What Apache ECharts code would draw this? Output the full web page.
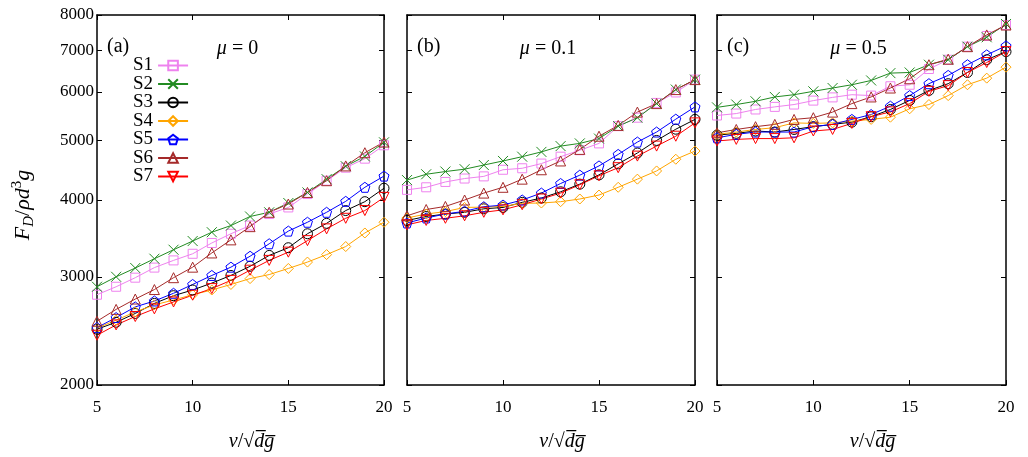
<!DOCTYPE html>
<html><head><meta charset="utf-8">
<script src="https://cdn.jsdelivr.net/npm/echarts@6/dist/echarts.min.js"></script>
<style>html,body{margin:0;padding:0;background:#fff}#c{width:1028px;height:457px}</style>
</head><body><div id="c"></div>
<script>
// ---------- data ----------
const speeds = [5,6,7,8,9,10,11,12,13,14,15,16,17,18,19,20];
const seriesNames = ['S1','S2','S3','S4','S5','S6','S7'];
const yTicks = [2000,3000,4000,5000,6000,7000,8000];
const xTicks = [5,10,15,20];
const panelTags = ['(a)','(b)','(c)'];
const muValues = ['0','0.1','0.5'];

// mu = 0
const mu0_S1 = [2805,2890,2990,3105,3190,3270,3405,3525,3635,3795,3890,4090,4300,4515,4670,4910];
const mu0_S2 = [2890,3000,3100,3210,3320,3430,3545,3635,3760,3820,3955,4115,4325,4540,4710,4965];
const mu0_S3 = [2465,2530,2615,2715,2795,2855,2930,3015,3120,3250,3345,3525,3665,3845,3975,4180];
const mu0_S4 = [2475,2550,2630,2700,2750,2805,2855,2915,2980,3025,3095,3170,3260,3360,3535,3680];
const mu0_S5 = [2480,2575,2680,2740,2820,2915,3015,3110,3240,3395,3560,3680,3820,3980,4195,4375];
const mu0_S6 = [2540,2655,2760,2860,2990,3110,3280,3445,3620,3820,3940,4115,4300,4545,4775,4970];
const mu0_S7 = [2410,2505,2585,2660,2730,2800,2870,2960,3075,3190,3290,3435,3590,3735,3845,4040];

// mu = 0.1
const mu01_S1 = [4155,4195,4280,4335,4370,4480,4505,4585,4705,4820,4945,5275,5445,5755,5985,6280];
const mu01_S2 = [4310,4405,4450,4490,4560,4630,4705,4790,4895,4945,5035,5275,5445,5740,6050,6280];
const mu01_S3 = [3705,3760,3795,3820,3870,3890,3965,4030,4125,4245,4395,4580,4770,5000,5215,5410];
const mu01_S4 = [3740,3795,3830,3890,3895,3905,3950,3955,3975,4015,4075,4195,4325,4460,4660,4805];
const mu01_S5 = [3670,3740,3795,3835,3900,3925,4000,4105,4255,4390,4545,4745,4970,5160,5415,5670];
const mu01_S6 = [3770,3860,3905,4000,4105,4195,4325,4480,4630,4835,5080,5290,5560,5740,6050,6280];
const mu01_S7 = [3645,3705,3735,3770,3820,3855,3930,4015,4105,4235,4380,4515,4715,4895,5080,5340];

// mu = 0.5
const mu05_S1 = [5490,5530,5615,5670,5720,5805,5875,5935,5915,6125,6160,6535,6765,7105,7395,7705];
const mu05_S2 = [5660,5720,5790,5885,5935,6010,6085,6160,6260,6435,6450,6640,6765,7105,7360,7735];
const mu05_S3 = [5100,5135,5180,5160,5210,5265,5310,5355,5465,5615,5810,6030,6185,6450,6765,6975];
const mu05_S4 = [5115,5160,5210,5245,5340,5330,5340,5375,5410,5455,5630,5720,5915,6160,6315,6580];
const mu05_S5 = [5050,5115,5160,5160,5160,5265,5310,5410,5510,5685,5915,6185,6380,6640,6890,7125];
const mu05_S6 = [5145,5210,5265,5310,5410,5445,5560,5740,5885,6085,6300,6640,6780,7105,7425,7705];
const mu05_S7 = [4990,5020,5035,5035,5050,5180,5210,5330,5465,5565,5740,6010,6140,6450,6695,6975];

const panels = [
  [mu0_S1,mu0_S2,mu0_S3,mu0_S4,mu0_S5,mu0_S6,mu0_S7],
  [mu01_S1,mu01_S2,mu01_S3,mu01_S4,mu01_S5,mu01_S6,mu01_S7],
  [mu05_S1,mu05_S2,mu05_S3,mu05_S4,mu05_S5,mu05_S6,mu05_S7]
];

// ---------- styles ----------
const FONT = 'Liberation Serif';
const colors = ['#ee82ee','#228b22','#000000','#ffa500','#0000ff','#a52a2a','#ff0000'];
const symbols = [
  'rect',
  'path://M0,0L10,10M10,0L0,10',
  'circle',
  'diamond',
  'path://M5,0L9.755,3.455L7.939,9.045L2.061,9.045L0.245,3.455Z',
  'triangle',
  'path://M0,0L10,0L5,8.66Z'
];
const symbolSizes = [9,10,10,10,10,10,10];
const grids = [
  {left:97, top:15, width:287, height:372},
  {left:407, top:15, width:288, height:372},
  {left:717, top:15, width:289, height:372}
];

const xAxes = [], yAxes = [], series = [], graphics = [];
grids.forEach((g, i) => {
  const common = {gridIndex:i, type:'value', min:5, max:20, interval:5,
    axisLine:{show:true, onZero:false, lineStyle:{color:'#000', width:1.5}},
    axisTick:{show:true, inside:true, length:5, customValues:xTicks, lineStyle:{color:'#000', width:1}},
    splitLine:{show:false}};
  xAxes.push(Object.assign({}, common, {position:'bottom',
    axisLabel:{show:true, margin:14, color:'#000', fontFamily:FONT, fontSize:17},
    name:'{i|v}/√{i|d̅g̅}', nameLocation:'middle', nameGap:47,
    nameTextStyle:{color:'#000', fontFamily:FONT, fontSize:20, padding:[0,0,0,22],
      rich:{i:{fontStyle:'italic', fontFamily:FONT, fontSize:20}}}}));
  xAxes.push(Object.assign({}, common, {position:'top', axisLabel:{show:false}}));
  const ycommon = {gridIndex:i, type:'log', logBase:10, min:2000, max:8000,
    axisLine:{show:true, onZero:false, lineStyle:{color:'#000', width:1.5}},
    axisTick:{show:true, inside:true, length:5, customValues:yTicks, lineStyle:{color:'#000', width:1}},
    minorTick:{show:false}, splitLine:{show:false}};
  const left = Object.assign({}, ycommon, {position:'left',
    axisLabel:{show:i===0, customValues:yTicks, margin:3, color:'#000', fontFamily:FONT, fontSize:17,
      formatter:v => String(Math.round(v))}});
  if (i === 0) {
    Object.assign(left, {name:'{i|F}{sub|D}/{i|ρd}{sup|3}{i|g}', nameLocation:'middle', nameGap:60, nameRotate:90,
      nameTextStyle:{color:'#000', fontFamily:FONT, fontSize:22, padding:[0,10,0,0],
        rich:{i:{fontStyle:'italic', fontFamily:FONT, fontSize:22},
              sub:{fontStyle:'italic', fontFamily:FONT, fontSize:15, padding:[12,0,0,0]},
              sup:{fontFamily:FONT, fontSize:15, padding:[0,0,12,0]}}}});
  }
  yAxes.push(left);
  yAxes.push(Object.assign({}, ycommon, {position:'right', axisLabel:{show:false}}));

  panels[i].forEach((vals, k) => {
    series.push({
      name: seriesNames[k], type:'line', xAxisIndex:2*i, yAxisIndex:2*i,
      data: speeds.map((x, j) => [x, vals[j]]),
      symbol: symbols[k], symbolSize: symbolSizes[k], showSymbol:true,
      lineStyle:{color:colors[k], width:1},
      itemStyle:{color:'rgba(0,0,0,0)', borderColor:colors[k], borderWidth:1},
      emphasis:{disabled:true}, animation:false, clip:false
    });
  });

  graphics.push({type:'text', left:g.left+10, top:37,
    style:{text:panelTags[i], font:'20px "' + FONT + '"', fill:'#000'}});
  graphics.push({type:'text', x:g.left + g.width*0.5 - 3, y:49,
    style:{text:'{i|μ} = ' + muValues[i], align:'center', verticalAlign:'middle',
      font:'20px "' + FONT + '"', fill:'#000',
      rich:{i:{fontStyle:'italic', fontFamily:FONT, fontSize:20}}}});
});

const chart = echarts.init(document.getElementById('c'), null, {renderer:'canvas'});
chart.setOption({
  animation:false,
  backgroundColor:'#fff',
  grid: grids,
  xAxis: xAxes,
  yAxis: yAxes,
  legend: {orient:'vertical', left:128, top:51, align:'right', itemWidth:30, itemHeight:12, itemGap:-0.5,
    data: seriesNames,
    textStyle:{color:'#000', fontFamily:FONT, fontSize:19}},
  series: series,
  graphic: graphics
});
</script></body></html>
